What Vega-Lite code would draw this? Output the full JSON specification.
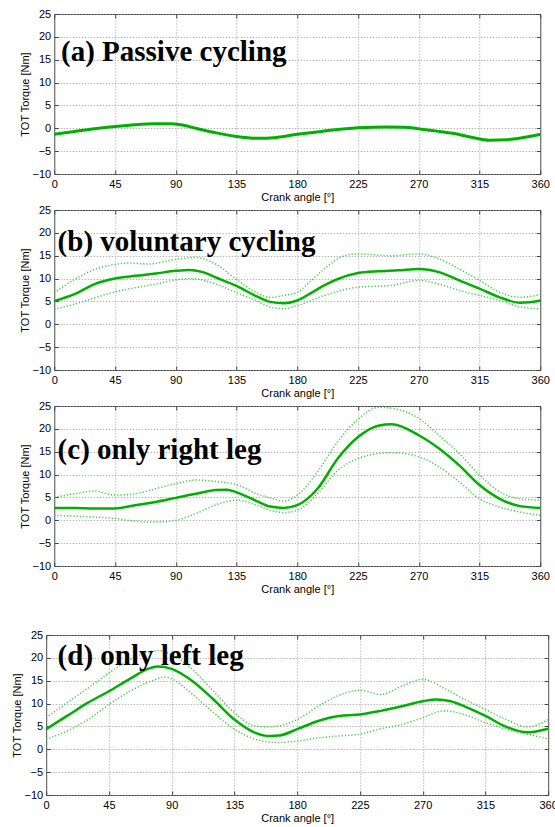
{
  "$schema": "https://vega.github.io/schema/vega-lite/v6.json",
  "background": "white",
  "padding": {"left": 10, "top": 7, "right": 0, "bottom": 0},
  "autosize": {"type": "pad"},
  "datasets": {
    "torque": [
      {"panel":"a","series":"mean","angle":0,"value":-1.3},{"panel":"a","series":"mean","angle":15,"value":-0.7},{"panel":"a","series":"mean","angle":30,"value":-0.1},{"panel":"a","series":"mean","angle":45,"value":0.4},{"panel":"a","series":"mean","angle":60,"value":0.8},{"panel":"a","series":"mean","angle":75,"value":1.0},{"panel":"a","series":"mean","angle":85,"value":1.0},{"panel":"a","series":"mean","angle":95,"value":0.7},{"panel":"a","series":"mean","angle":105,"value":0.0},{"panel":"a","series":"mean","angle":120,"value":-1.0},{"panel":"a","series":"mean","angle":135,"value":-1.8},{"panel":"a","series":"mean","angle":150,"value":-2.2},{"panel":"a","series":"mean","angle":165,"value":-2.0},{"panel":"a","series":"mean","angle":180,"value":-1.3},{"panel":"a","series":"mean","angle":200,"value":-0.6},{"panel":"a","series":"mean","angle":225,"value":0.1},{"panel":"a","series":"mean","angle":245,"value":0.3},{"panel":"a","series":"mean","angle":260,"value":0.2},{"panel":"a","series":"mean","angle":275,"value":-0.3},{"panel":"a","series":"mean","angle":295,"value":-1.1},{"panel":"a","series":"mean","angle":310,"value":-2.0},{"panel":"a","series":"mean","angle":322,"value":-2.6},{"panel":"a","series":"mean","angle":335,"value":-2.5},{"panel":"a","series":"mean","angle":350,"value":-1.9},{"panel":"a","series":"mean","angle":360,"value":-1.3},

      {"panel":"b","series":"mean","angle":0,"value":5.1},{"panel":"b","series":"mean","angle":15,"value":6.6},{"panel":"b","series":"mean","angle":30,"value":8.8},{"panel":"b","series":"mean","angle":45,"value":10.0},{"panel":"b","series":"mean","angle":60,"value":10.6},{"panel":"b","series":"mean","angle":75,"value":11.1},{"panel":"b","series":"mean","angle":90,"value":11.7},{"panel":"b","series":"mean","angle":100,"value":11.9},{"panel":"b","series":"mean","angle":110,"value":11.4},{"panel":"b","series":"mean","angle":120,"value":10.2},{"panel":"b","series":"mean","angle":135,"value":8.4},{"panel":"b","series":"mean","angle":150,"value":6.1},{"panel":"b","series":"mean","angle":160,"value":4.9},{"panel":"b","series":"mean","angle":170,"value":4.6},{"panel":"b","series":"mean","angle":180,"value":5.2},{"panel":"b","series":"mean","angle":190,"value":6.8},{"panel":"b","series":"mean","angle":200,"value":8.5},{"panel":"b","series":"mean","angle":210,"value":9.9},{"panel":"b","series":"mean","angle":225,"value":11.2},{"panel":"b","series":"mean","angle":240,"value":11.6},{"panel":"b","series":"mean","angle":255,"value":11.8},{"panel":"b","series":"mean","angle":270,"value":12.1},{"panel":"b","series":"mean","angle":285,"value":11.4},{"panel":"b","series":"mean","angle":300,"value":9.6},{"panel":"b","series":"mean","angle":315,"value":7.8},{"panel":"b","series":"mean","angle":330,"value":5.9},{"panel":"b","series":"mean","angle":345,"value":4.7},{"panel":"b","series":"mean","angle":352,"value":4.8},{"panel":"b","series":"mean","angle":360,"value":5.2},
      {"panel":"b","series":"upper","angle":0,"value":6.9},{"panel":"b","series":"upper","angle":15,"value":9.8},{"panel":"b","series":"upper","angle":30,"value":12.0},{"panel":"b","series":"upper","angle":45,"value":13.1},{"panel":"b","series":"upper","angle":55,"value":13.4},{"panel":"b","series":"upper","angle":70,"value":13.2},{"panel":"b","series":"upper","angle":90,"value":14.2},{"panel":"b","series":"upper","angle":105,"value":14.6},{"panel":"b","series":"upper","angle":120,"value":13.1},{"panel":"b","series":"upper","angle":135,"value":9.8},{"panel":"b","series":"upper","angle":150,"value":6.9},{"panel":"b","series":"upper","angle":160,"value":5.9},{"panel":"b","series":"upper","angle":170,"value":6.3},{"panel":"b","series":"upper","angle":180,"value":7.0},{"panel":"b","series":"upper","angle":190,"value":9.5},{"panel":"b","series":"upper","angle":200,"value":12.1},{"panel":"b","series":"upper","angle":215,"value":15.0},{"panel":"b","series":"upper","angle":225,"value":15.4},{"panel":"b","series":"upper","angle":250,"value":15.0},{"panel":"b","series":"upper","angle":270,"value":15.4},{"panel":"b","series":"upper","angle":285,"value":14.3},{"panel":"b","series":"upper","angle":300,"value":12.1},{"panel":"b","series":"upper","angle":315,"value":9.6},{"panel":"b","series":"upper","angle":330,"value":7.0},{"panel":"b","series":"upper","angle":345,"value":5.9},{"panel":"b","series":"upper","angle":360,"value":6.5},
      {"panel":"b","series":"lower","angle":0,"value":3.3},{"panel":"b","series":"lower","angle":15,"value":4.4},{"panel":"b","series":"lower","angle":30,"value":5.8},{"panel":"b","series":"lower","angle":45,"value":7.1},{"panel":"b","series":"lower","angle":60,"value":8.0},{"panel":"b","series":"lower","angle":75,"value":8.8},{"panel":"b","series":"lower","angle":90,"value":9.7},{"panel":"b","series":"lower","angle":100,"value":10.0},{"panel":"b","series":"lower","angle":120,"value":8.8},{"panel":"b","series":"lower","angle":135,"value":6.9},{"panel":"b","series":"lower","angle":150,"value":5.1},{"panel":"b","series":"lower","angle":160,"value":3.8},{"panel":"b","series":"lower","angle":170,"value":3.4},{"panel":"b","series":"lower","angle":180,"value":4.1},{"panel":"b","series":"lower","angle":200,"value":6.3},{"panel":"b","series":"lower","angle":225,"value":8.1},{"panel":"b","series":"lower","angle":250,"value":8.5},{"panel":"b","series":"lower","angle":270,"value":9.6},{"panel":"b","series":"lower","angle":285,"value":8.8},{"panel":"b","series":"lower","angle":300,"value":7.4},{"panel":"b","series":"lower","angle":315,"value":6.3},{"panel":"b","series":"lower","angle":330,"value":5.2},{"panel":"b","series":"lower","angle":345,"value":3.8},{"panel":"b","series":"lower","angle":360,"value":3.4},

      {"panel":"c","series":"mean","angle":0,"value":2.7},{"panel":"c","series":"mean","angle":15,"value":2.7},{"panel":"c","series":"mean","angle":30,"value":2.6},{"panel":"c","series":"mean","angle":45,"value":2.6},{"panel":"c","series":"mean","angle":60,"value":3.3},{"panel":"c","series":"mean","angle":75,"value":4.0},{"panel":"c","series":"mean","angle":90,"value":4.9},{"panel":"c","series":"mean","angle":105,"value":5.8},{"panel":"c","series":"mean","angle":120,"value":6.6},{"panel":"c","series":"mean","angle":128,"value":6.7},{"panel":"c","series":"mean","angle":135,"value":6.1},{"panel":"c","series":"mean","angle":150,"value":4.2},{"panel":"c","series":"mean","angle":160,"value":3.0},{"panel":"c","series":"mean","angle":170,"value":2.7},{"panel":"c","series":"mean","angle":180,"value":3.3},{"panel":"c","series":"mean","angle":195,"value":6.9},{"panel":"c","series":"mean","angle":210,"value":13.5},{"panel":"c","series":"mean","angle":225,"value":18.2},{"panel":"c","series":"mean","angle":240,"value":20.7},{"panel":"c","series":"mean","angle":250,"value":21.0},{"panel":"c","series":"mean","angle":270,"value":18.6},{"panel":"c","series":"mean","angle":285,"value":15.7},{"panel":"c","series":"mean","angle":300,"value":12.0},{"panel":"c","series":"mean","angle":315,"value":7.7},{"panel":"c","series":"mean","angle":330,"value":4.7},{"panel":"c","series":"mean","angle":345,"value":3.1},{"panel":"c","series":"mean","angle":360,"value":2.7},
      {"panel":"c","series":"upper","angle":0,"value":5.0},{"panel":"c","series":"upper","angle":15,"value":5.8},{"panel":"c","series":"upper","angle":30,"value":6.4},{"panel":"c","series":"upper","angle":45,"value":5.5},{"panel":"c","series":"upper","angle":60,"value":5.8},{"panel":"c","series":"upper","angle":75,"value":6.9},{"panel":"c","series":"upper","angle":90,"value":8.0},{"panel":"c","series":"upper","angle":105,"value":8.8},{"panel":"c","series":"upper","angle":120,"value":8.5},{"panel":"c","series":"upper","angle":135,"value":7.8},{"panel":"c","series":"upper","angle":150,"value":5.8},{"panel":"c","series":"upper","angle":160,"value":4.9},{"panel":"c","series":"upper","angle":170,"value":4.2},{"panel":"c","series":"upper","angle":180,"value":5.5},{"panel":"c","series":"upper","angle":195,"value":10.6},{"panel":"c","series":"upper","angle":210,"value":17.2},{"panel":"c","series":"upper","angle":225,"value":22.1},{"panel":"c","series":"upper","angle":240,"value":24.7},{"panel":"c","series":"upper","angle":250,"value":24.5},{"panel":"c","series":"upper","angle":270,"value":22.3},{"panel":"c","series":"upper","angle":285,"value":18.6},{"panel":"c","series":"upper","angle":300,"value":14.6},{"panel":"c","series":"upper","angle":315,"value":9.9},{"panel":"c","series":"upper","angle":330,"value":6.2},{"panel":"c","series":"upper","angle":345,"value":4.7},{"panel":"c","series":"upper","angle":360,"value":4.4},
      {"panel":"c","series":"lower","angle":0,"value":1.1},{"panel":"c","series":"lower","angle":15,"value":0.9},{"panel":"c","series":"lower","angle":30,"value":0.7},{"panel":"c","series":"lower","angle":45,"value":0.4},{"panel":"c","series":"lower","angle":60,"value":-0.2},{"panel":"c","series":"lower","angle":75,"value":-0.4},{"panel":"c","series":"lower","angle":90,"value":0.0},{"panel":"c","series":"lower","angle":105,"value":1.5},{"panel":"c","series":"lower","angle":120,"value":3.4},{"panel":"c","series":"lower","angle":135,"value":4.4},{"panel":"c","series":"lower","angle":150,"value":3.3},{"panel":"c","series":"lower","angle":160,"value":2.2},{"panel":"c","series":"lower","angle":170,"value":1.7},{"panel":"c","series":"lower","angle":180,"value":2.2},{"panel":"c","series":"lower","angle":195,"value":5.8},{"panel":"c","series":"lower","angle":210,"value":10.9},{"panel":"c","series":"lower","angle":225,"value":13.5},{"panel":"c","series":"lower","angle":240,"value":14.6},{"panel":"c","series":"lower","angle":250,"value":14.8},{"panel":"c","series":"lower","angle":270,"value":13.9},{"panel":"c","series":"lower","angle":285,"value":11.7},{"panel":"c","series":"lower","angle":300,"value":8.4},{"panel":"c","series":"lower","angle":315,"value":4.7},{"panel":"c","series":"lower","angle":330,"value":2.9},{"panel":"c","series":"lower","angle":345,"value":1.8},{"panel":"c","series":"lower","angle":360,"value":1.1},

      {"panel":"d","series":"mean","angle":0,"value":4.4},{"panel":"d","series":"mean","angle":15,"value":7.3},{"panel":"d","series":"mean","angle":30,"value":10.2},{"panel":"d","series":"mean","angle":45,"value":12.7},{"panel":"d","series":"mean","angle":60,"value":15.4},{"panel":"d","series":"mean","angle":75,"value":17.8},{"panel":"d","series":"mean","angle":80,"value":18.1},{"panel":"d","series":"mean","angle":90,"value":17.6},{"panel":"d","series":"mean","angle":105,"value":14.9},{"panel":"d","series":"mean","angle":120,"value":10.9},{"panel":"d","series":"mean","angle":135,"value":6.5},{"panel":"d","series":"mean","angle":150,"value":3.6},{"panel":"d","series":"mean","angle":160,"value":2.9},{"panel":"d","series":"mean","angle":167,"value":3.0},{"panel":"d","series":"mean","angle":180,"value":4.4},{"panel":"d","series":"mean","angle":195,"value":6.2},{"panel":"d","series":"mean","angle":210,"value":7.3},{"panel":"d","series":"mean","angle":225,"value":7.6},{"panel":"d","series":"mean","angle":240,"value":8.4},{"panel":"d","series":"mean","angle":255,"value":9.4},{"panel":"d","series":"mean","angle":270,"value":10.5},{"panel":"d","series":"mean","angle":280,"value":10.9},{"panel":"d","series":"mean","angle":290,"value":10.5},{"panel":"d","series":"mean","angle":300,"value":9.4},{"panel":"d","series":"mean","angle":315,"value":7.3},{"panel":"d","series":"mean","angle":330,"value":4.9},{"panel":"d","series":"mean","angle":345,"value":3.7},{"panel":"d","series":"mean","angle":360,"value":4.5},
      {"panel":"d","series":"upper","angle":0,"value":6.9},{"panel":"d","series":"upper","angle":15,"value":10.2},{"panel":"d","series":"upper","angle":30,"value":13.4},{"panel":"d","series":"upper","angle":45,"value":16.7},{"panel":"d","series":"upper","angle":60,"value":19.6},{"panel":"d","series":"upper","angle":75,"value":21.4},{"panel":"d","series":"upper","angle":80,"value":21.6},{"panel":"d","series":"upper","angle":90,"value":20.7},{"panel":"d","series":"upper","angle":105,"value":17.4},{"panel":"d","series":"upper","angle":120,"value":12.7},{"panel":"d","series":"upper","angle":135,"value":8.0},{"panel":"d","series":"upper","angle":150,"value":5.1},{"panel":"d","series":"upper","angle":160,"value":4.9},{"panel":"d","series":"upper","angle":180,"value":6.5},{"panel":"d","series":"upper","angle":195,"value":9.4},{"panel":"d","series":"upper","angle":210,"value":11.8},{"panel":"d","series":"upper","angle":225,"value":12.9},{"panel":"d","series":"upper","angle":240,"value":12.0},{"panel":"d","series":"upper","angle":255,"value":13.8},{"panel":"d","series":"upper","angle":270,"value":15.3},{"panel":"d","series":"upper","angle":285,"value":13.4},{"panel":"d","series":"upper","angle":300,"value":10.9},{"panel":"d","series":"upper","angle":315,"value":8.7},{"panel":"d","series":"upper","angle":330,"value":6.5},{"panel":"d","series":"upper","angle":345,"value":4.9},{"panel":"d","series":"upper","angle":360,"value":6.5},
      {"panel":"d","series":"lower","angle":0,"value":2.2},{"panel":"d","series":"lower","angle":15,"value":4.0},{"panel":"d","series":"lower","angle":30,"value":6.5},{"panel":"d","series":"lower","angle":45,"value":9.8},{"panel":"d","series":"lower","angle":60,"value":12.7},{"panel":"d","series":"lower","angle":75,"value":14.9},{"panel":"d","series":"lower","angle":85,"value":15.8},{"panel":"d","series":"lower","angle":90,"value":15.4},{"panel":"d","series":"lower","angle":105,"value":12.0},{"panel":"d","series":"lower","angle":120,"value":8.0},{"panel":"d","series":"lower","angle":135,"value":4.4},{"panel":"d","series":"lower","angle":150,"value":2.2},{"panel":"d","series":"lower","angle":160,"value":1.6},{"panel":"d","series":"lower","angle":167,"value":1.5},{"panel":"d","series":"lower","angle":180,"value":1.8},{"panel":"d","series":"lower","angle":195,"value":2.5},{"panel":"d","series":"lower","angle":210,"value":2.9},{"panel":"d","series":"lower","angle":225,"value":3.3},{"panel":"d","series":"lower","angle":240,"value":4.5},{"panel":"d","series":"lower","angle":255,"value":5.4},{"panel":"d","series":"lower","angle":270,"value":6.9},{"panel":"d","series":"lower","angle":285,"value":8.4},{"panel":"d","series":"lower","angle":300,"value":7.6},{"panel":"d","series":"lower","angle":315,"value":5.8},{"panel":"d","series":"lower","angle":330,"value":4.4},{"panel":"d","series":"lower","angle":345,"value":3.3},{"panel":"d","series":"lower","angle":360,"value":2.3}
    ],
    "labels": [
      {"panel": "a", "label": "(a) Passive cycling"},
      {"panel": "b", "label": "(b) voluntary cycling"},
      {"panel": "c", "label": "(c) only right leg"},
      {"panel": "d", "label": "(d) only left leg"}
    ]
  },
  "spacing": 33,
  "center": true,
  "vconcat": [
    {
      "spacing": 0,
      "center": true,
      "vconcat": [
        {
          "width": 486, "height": 160,
          "resolve": {"axis": {"x": "independent", "y": "independent"}},
          "layer": [
            {"data": {"name": "torque"}, "transform": [{"filter": "datum.panel == 'a'"}], "mark": {"type": "line", "interpolate": "monotone", "color": "#00b000", "strokeWidth": 3},
             "encoding": {
               "x": {"field": "angle", "type": "quantitative", "scale": {"domain": [0, 360], "nice": false}, "axis": {"values": [0,45,90,135,180,225,270,315,360], "title": "Crank angle [°]"}},
               "y": {"field": "value", "type": "quantitative", "scale": {"domain": [-10, 25], "nice": false}, "axis": {"values": [-10,-5,0,5,10,15,20,25], "title": "TOT Torque [Nm]"}}
             }},
            {"data": {"name": "labels"}, "transform": [{"filter": "datum.panel == 'a'"}], "mark": {"type": "text", "font": "Liberation Serif", "fontWeight": "bold", "fontSize": 29, "align": "left", "baseline": "alphabetic", "color": "#000000"},
             "encoding": {
               "x": {"datum": 5, "type": "quantitative", "axis": {"orient": "top", "values": [0,45,90,135,180,225,270,315,360], "labels": false, "grid": false, "title": null}},
               "y": {"datum": 14.8, "type": "quantitative", "axis": {"orient": "right", "values": [-10,-5,0,5,10,15,20,25], "labels": false, "grid": false, "title": null}},
               "text": {"field": "label"}
             }}
          ]
        },
        {
          "width": 486, "height": 160,
          "resolve": {"axis": {"x": "independent", "y": "independent"}},
          "layer": [
            {"data": {"name": "torque"}, "transform": [{"filter": "datum.panel == 'b' && datum.series != 'mean'"}], "mark": {"type": "line", "interpolate": "monotone", "color": "#3fcc3f", "strokeWidth": 1.5, "strokeDash": [1.2, 2]},
             "encoding": {
               "x": {"field": "angle", "type": "quantitative", "scale": {"domain": [0, 360], "nice": false}, "axis": {"values": [0,45,90,135,180,225,270,315,360], "title": "Crank angle [°]"}},
               "y": {"field": "value", "type": "quantitative", "scale": {"domain": [-10, 25], "nice": false}, "axis": {"values": [-10,-5,0,5,10,15,20,25], "title": "TOT Torque [Nm]"}},
               "detail": {"field": "series"}
             }},
            {"data": {"name": "torque"}, "transform": [{"filter": "datum.panel == 'b' && datum.series == 'mean'"}], "mark": {"type": "line", "interpolate": "monotone", "color": "#00b000", "strokeWidth": 2.5},
             "encoding": {
               "x": {"field": "angle", "type": "quantitative", "axis": null},
               "y": {"field": "value", "type": "quantitative", "axis": null}
             }},
            {"data": {"name": "labels"}, "transform": [{"filter": "datum.panel == 'b'"}], "mark": {"type": "text", "font": "Liberation Serif", "fontWeight": "bold", "fontSize": 29, "align": "left", "baseline": "alphabetic", "color": "#000000"},
             "encoding": {
               "x": {"datum": 2.5, "type": "quantitative", "axis": {"orient": "top", "values": [0,45,90,135,180,225,270,315,360], "labels": false, "grid": false, "title": null}},
               "y": {"datum": 16, "type": "quantitative", "axis": {"orient": "right", "values": [-10,-5,0,5,10,15,20,25], "labels": false, "grid": false, "title": null}},
               "text": {"field": "label"}
             }}
          ]
        },
        {
          "width": 486, "height": 160,
          "resolve": {"axis": {"x": "independent", "y": "independent"}},
          "layer": [
            {"data": {"name": "torque"}, "transform": [{"filter": "datum.panel == 'c' && datum.series != 'mean'"}], "mark": {"type": "line", "interpolate": "monotone", "color": "#3fcc3f", "strokeWidth": 1.5, "strokeDash": [1.2, 2]},
             "encoding": {
               "x": {"field": "angle", "type": "quantitative", "scale": {"domain": [0, 360], "nice": false}, "axis": {"values": [0,45,90,135,180,225,270,315,360], "title": "Crank angle [°]"}},
               "y": {"field": "value", "type": "quantitative", "scale": {"domain": [-10, 25], "nice": false}, "axis": {"values": [-10,-5,0,5,10,15,20,25], "title": "TOT Torque [Nm]"}},
               "detail": {"field": "series"}
             }},
            {"data": {"name": "torque"}, "transform": [{"filter": "datum.panel == 'c' && datum.series == 'mean'"}], "mark": {"type": "line", "interpolate": "monotone", "color": "#00b000", "strokeWidth": 2.5},
             "encoding": {
               "x": {"field": "angle", "type": "quantitative", "axis": null},
               "y": {"field": "value", "type": "quantitative", "axis": null}
             }},
            {"data": {"name": "labels"}, "transform": [{"filter": "datum.panel == 'c'"}], "mark": {"type": "text", "font": "Liberation Serif", "fontWeight": "bold", "fontSize": 29, "align": "left", "baseline": "alphabetic", "color": "#000000"},
             "encoding": {
               "x": {"datum": 2.5, "type": "quantitative", "axis": {"orient": "top", "values": [0,45,90,135,180,225,270,315,360], "labels": false, "grid": false, "title": null}},
               "y": {"datum": 13.5, "type": "quantitative", "axis": {"orient": "right", "values": [-10,-5,0,5,10,15,20,25], "labels": false, "grid": false, "title": null}},
               "text": {"field": "label"}
             }}
          ]
        }
      ]
    },
    {
      "width": 502, "height": 160,
      "resolve": {"axis": {"x": "independent", "y": "independent"}},
      "layer": [
        {"data": {"name": "torque"}, "transform": [{"filter": "datum.panel == 'd' && datum.series != 'mean'"}], "mark": {"type": "line", "interpolate": "monotone", "color": "#3fcc3f", "strokeWidth": 1.5, "strokeDash": [1.2, 2]},
         "encoding": {
           "x": {"field": "angle", "type": "quantitative", "scale": {"domain": [0, 360], "nice": false}, "axis": {"values": [0,45,90,135,180,225,270,315,360], "title": "Crank angle [°]"}},
           "y": {"field": "value", "type": "quantitative", "scale": {"domain": [-10, 25], "nice": false}, "axis": {"values": [-10,-5,0,5,10,15,20,25], "title": "TOT Torque [Nm]"}},
           "detail": {"field": "series"}
         }},
        {"data": {"name": "torque"}, "transform": [{"filter": "datum.panel == 'd' && datum.series == 'mean'"}], "mark": {"type": "line", "interpolate": "monotone", "color": "#00b000", "strokeWidth": 2.5},
         "encoding": {
           "x": {"field": "angle", "type": "quantitative", "axis": null},
           "y": {"field": "value", "type": "quantitative", "axis": null}
         }},
        {"data": {"name": "labels"}, "transform": [{"filter": "datum.panel == 'd'"}], "mark": {"type": "text", "font": "Liberation Serif", "fontWeight": "bold", "fontSize": 29, "align": "left", "baseline": "alphabetic", "color": "#000000"},
         "encoding": {
           "x": {"datum": 8.2, "type": "quantitative", "axis": {"orient": "top", "values": [0,45,90,135,180,225,270,315,360], "labels": false, "grid": false, "title": null}},
           "y": {"datum": 18.4, "type": "quantitative", "axis": {"orient": "right", "values": [-10,-5,0,5,10,15,20,25], "labels": false, "grid": false, "title": null}},
           "text": {"field": "label"}
         }}
      ]
    }
  ],
  "config": {
    "view": {"stroke": "#444444", "strokeWidth": 1},
    "axis": {
      "labelFont": "Liberation Sans", "labelFontSize": 11, "labelColor": "#000000", "labelFlush": false,
      "titleFont": "Liberation Sans", "titleFontSize": 11, "titleFontWeight": "normal", "titleColor": "#000000",
      "grid": true, "gridColor": "#999999", "gridDash": [1, 2], "gridWidth": 1,
      "domain": false, "ticks": true, "tickSize": -4, "tickColor": "#444444"
    },
    "axisX": {"labelPadding": 8, "titlePadding": 2},
    "axisY": {"labelPadding": 7.5, "titlePadding": 2}
  }
}
